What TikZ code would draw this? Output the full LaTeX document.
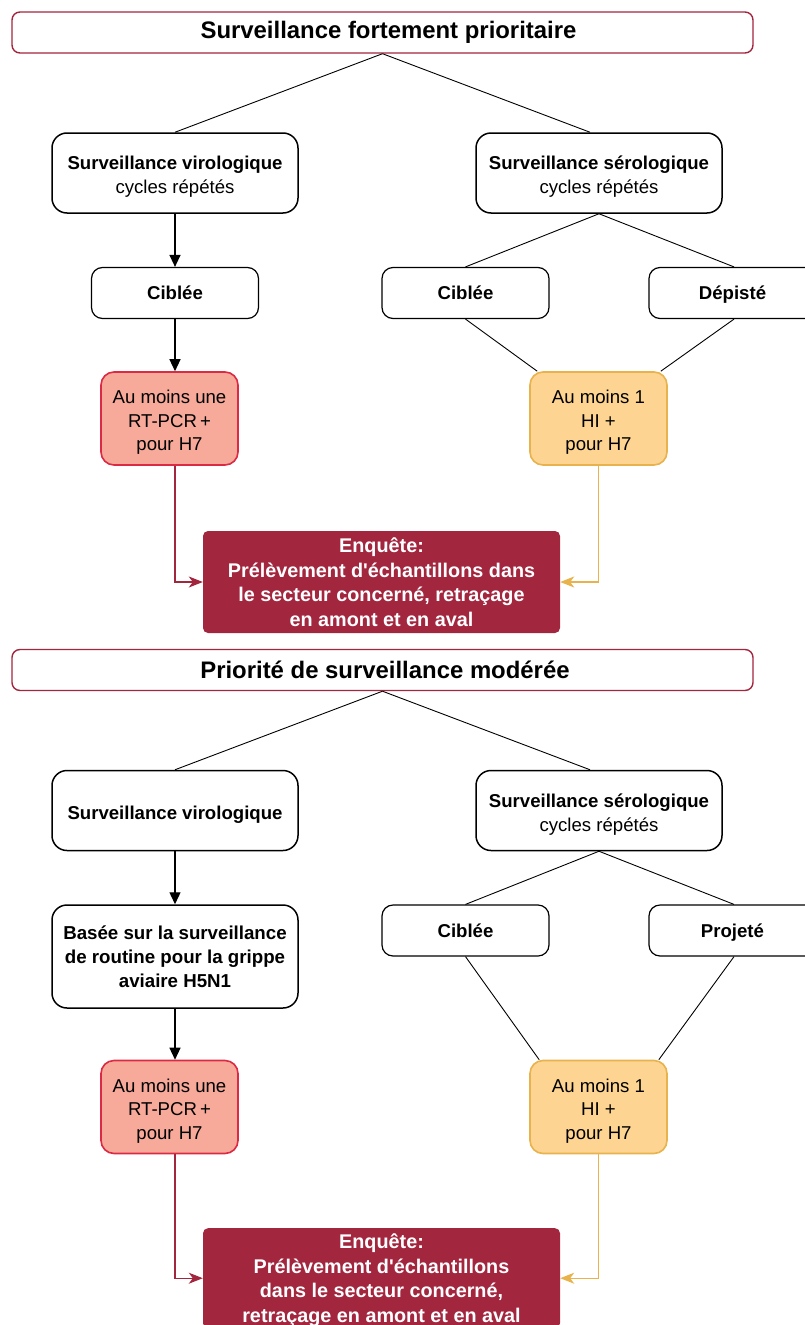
\documentclass[tikz,border=0pt]{standalone}
\usepackage{fontspec}
\setmainfont{Liberation Sans}
\usetikzlibrary{arrows.meta,calc}
\definecolor{crim}{HTML}{A3263F}
\definecolor{redfill}{HTML}{F7A99A}
\definecolor{redline}{HTML}{DC2A45}
\definecolor{orfill}{HTML}{FDD491}
\definecolor{orline}{HTML}{E8B24C}
\newcommand{\topstrut}{\rule{0pt}{21pt}}
\tikzset{
  hdr/.style={draw=crim, line width=1.4pt, rounded corners=8pt, fill=white, inner sep=0pt,
    minimum width=741pt, minimum height=41pt, font=\fontsize{23.9}{26}\selectfont\bfseries},
  bigbox/.style={draw=black, line width=1.5pt, rounded corners=15pt, inner sep=0pt, align=center,
    minimum width=246pt, minimum height=80pt, font=\fontsize{18.6}{24}\selectfont},
  smallbox/.style={draw=black, line width=1.2pt, rounded corners=11pt, inner sep=0pt, align=center,
    minimum width=167pt, minimum height=51pt, text height=13.5pt, text depth=0pt,
    font=\fontsize{18.6}{24}\selectfont\bfseries},
  redbox/.style={draw=redline, fill=redfill, line width=1.6pt, rounded corners=13pt, inner sep=0pt, align=center,
    minimum width=137pt, minimum height=93pt, font=\fontsize{18.6}{23.5}\selectfont},
  orbox/.style={draw=orline, fill=orfill, line width=1.6pt, rounded corners=13pt, inner sep=0pt, align=center,
    minimum width=137pt, minimum height=93pt, font=\fontsize{18.6}{23.5}\selectfont},
  enqbox/.style={fill=crim, rounded corners=5pt, inner sep=0pt, align=center, text=white,
    minimum width=357pt, font=\fontsize{19.8}{24.5}\selectfont\bfseries},
  thin/.style={draw=black, line width=0.9pt},
  blackarrow/.style={draw=black, line width=1.3pt, -{Triangle[length=12pt,width=11pt]}},
  redarrow/.style={draw=crim, line width=1.1pt, -{Stealth[length=14pt,width=11pt,inset=4pt]}},
  orarrow/.style={draw=orline, line width=1.3pt, -{Stealth[length=14pt,width=11pt,inset=4pt]}},
}
\begin{document}
\begin{tikzpicture}[x=1pt,y=-1pt]
\useasboundingbox (0,0) rectangle (804,1325);
% ---------- section 1 ----------
\node[hdr] (h1) at (382.5,32.5) {\hspace{12pt}Surveillance fortement prioritaire};
\node[bigbox] (v1) at (175,173) {\topstrut\textbf{Surveillance virologique}\\cycles répétés};
\node[bigbox] (s1) at (599,173) {\topstrut\textbf{Surveillance sérologique}\\cycles répétés};
\node[smallbox] (c1) at (175,293) {Ciblée};
\node[smallbox] (c2) at (465.5,293) {Ciblée};
\node[smallbox] (d1) at (732.5,293) {Dépisté};
\node[redbox] (r1) at (169.5,418.5) {\topstrut Au moins une\\RT-PCR\,+\\pour H7};
\node[orbox] (o1) at (598.5,418.5) {\topstrut Au moins 1\\HI +\\pour H7};
\node[enqbox, minimum height=102pt] (e1) at (381.5,582) {Enquête:\\Prélèvement d\textquotesingle échantillons dans\\le secteur concerné, retraçage\\en amont et en aval};
\draw[thin] (h1.south) -- (v1.north);
\draw[thin] (h1.south) -- ([xshift=-9pt]s1.north);
\draw[blackarrow] (v1.south) -- (c1.north);
\draw[blackarrow] (c1.south) -- (c1.south |- r1.north);
\draw[thin] (s1.south) -- (c2.north);
\draw[thin] (s1.south) -- ([xshift=1.5pt]d1.north);
\draw[thin] (c2.south) -- ([xshift=8pt]o1.north west);
\draw[thin] ([xshift=1.5pt]d1.south) -- ([xshift=-7pt]o1.north east);
\draw[redarrow] (c1.south |- r1.south) |- (e1.west);
\draw[orarrow] (o1.south) |- (e1.east);
% ---------- section 2 ----------
\node[hdr] (h2) at (382.5,670) {\hspace{5pt}Priorité de surveillance modérée};
\node[bigbox, text height=21pt, text depth=3.8pt] (v2) at (175,810.5) {\textbf{Surveillance virologique}};
\node[bigbox] (s2) at (599,810.5) {\topstrut\textbf{Surveillance sérologique}\\cycles répétés};
\node[bigbox, minimum height=103pt, font=\fontsize{18.7}{24}\selectfont\bfseries] (b2) at (175,956.5) {Basée sur la surveillance\\de routine pour la grippe\\aviaire H5N1};
\node[smallbox] (c3) at (465.5,930.5) {Ciblée};
\node[smallbox] (p2) at (732.5,930.5) {Projeté};
\node[redbox] (r2) at (169.5,1107) {\topstrut Au moins une\\RT-PCR\,+\\pour H7};
\node[orbox] (o2) at (598.5,1107) {\topstrut Au moins 1\\HI +\\pour H7};
\node[enqbox, minimum height=100pt, anchor=north] (e2) at (381.5,1228) {\rule{0pt}{18.5pt}Enquête:\\Prélèvement d\textquotesingle échantillons\\dans le secteur concerné,\\retraçage en amont et en aval};
\draw[thin] (h2.south) -- (v2.north);
\draw[thin] (h2.south) -- ([xshift=-9pt]s2.north);
\draw[blackarrow] (v2.south) -- (b2.north);
\draw[blackarrow] (b2.south) -- (b2.south |- r2.north);
\draw[thin] (s2.south) -- (c3.north);
\draw[thin] (s2.south) -- ([xshift=1.5pt]p2.north);
\draw[thin] (c3.south) -- ([xshift=10pt]o2.north west);
\draw[thin] ([xshift=1.5pt]p2.south) -- ([xshift=-9pt]o2.north east);
\draw[redarrow] (b2.south |- r2.south) |- (e2.west);
\draw[orarrow] (o2.south) |- (e2.east);
\end{tikzpicture}
\end{document}
